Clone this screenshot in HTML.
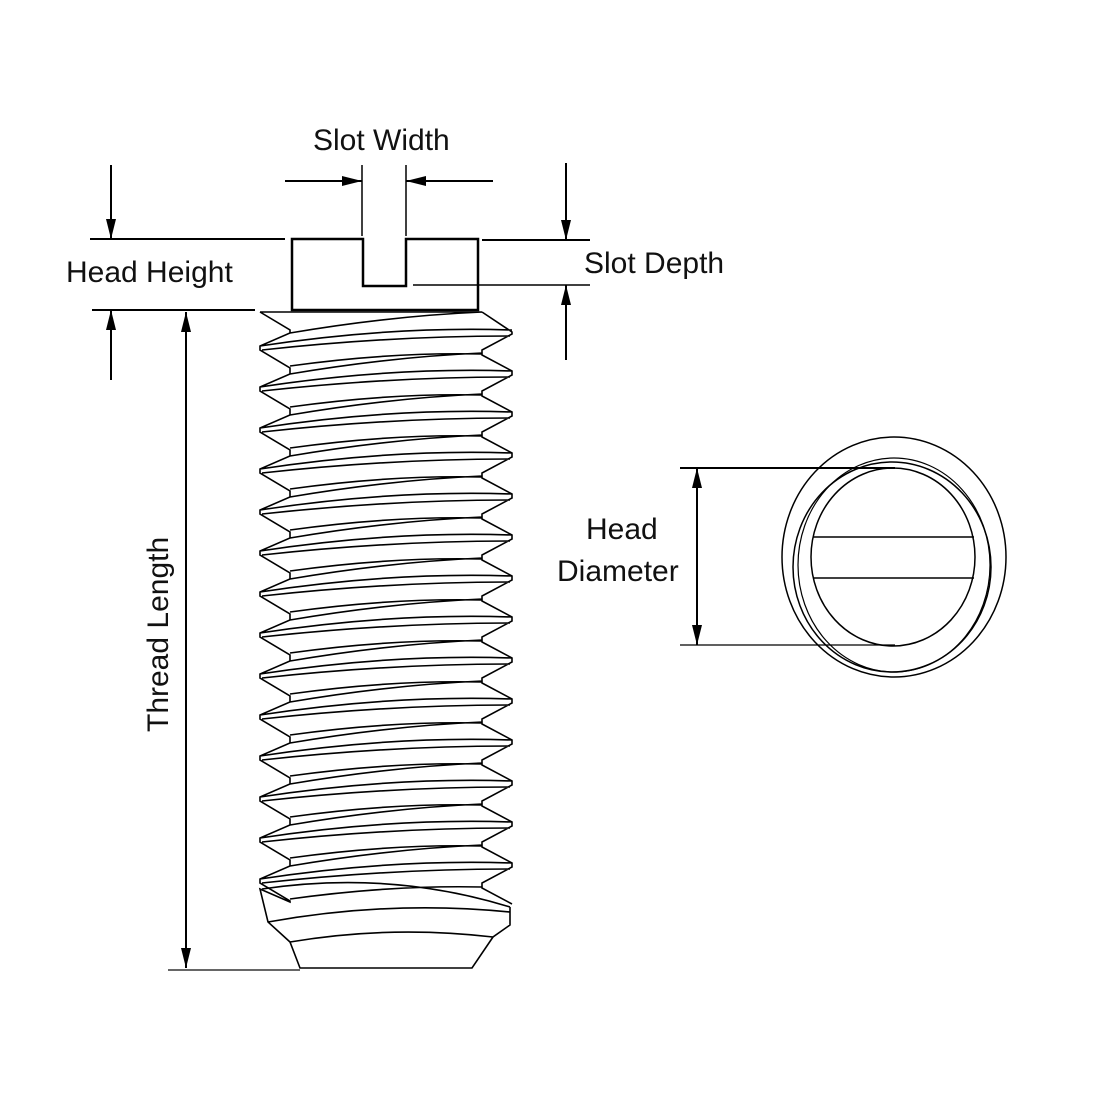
<!DOCTYPE html>
<html><head><meta charset="utf-8"><style>
html,body{margin:0;padding:0;background:#fff;}
svg{display:block;}
text{font-family:"Liberation Sans",sans-serif;font-size:30px;fill:#111;}
</style></head><body>
<svg id="s" width="1100" height="1100" viewBox="0 0 1100 1100" xmlns="http://www.w3.org/2000/svg">
<defs>
<marker id="a" viewBox="0 0 20 10" refX="20" refY="5" markerWidth="20" markerHeight="10" markerUnits="userSpaceOnUse" orient="auto"><path d="M0,0 L20,5 L0,10 z" fill="#000"/></marker>
</defs>
<g stroke="#000" fill="none" stroke-width="2">
<path d="M292,239 H363 V286 H406 V239 H478 V310 H292 Z" stroke-width="2.5"/>
<line x1="90" y1="239" x2="285" y2="239"/>
<line x1="92" y1="310" x2="255" y2="310"/>
<line x1="111" y1="165" x2="111" y2="239" marker-end="url(#a)"/>
<line x1="111" y1="380" x2="111" y2="310" marker-end="url(#a)"/>
<line x1="362" y1="165" x2="362" y2="236" stroke-width="1.5"/>
<line x1="406" y1="165" x2="406" y2="236" stroke-width="1.5"/>
<line x1="285" y1="181" x2="362" y2="181" marker-end="url(#a)"/>
<line x1="493" y1="181" x2="406" y2="181" marker-end="url(#a)"/>
<line x1="482" y1="240" x2="590" y2="240"/>
<line x1="413" y1="285" x2="590" y2="285" stroke-width="1.5"/>
<line x1="566" y1="163" x2="566" y2="240" marker-end="url(#a)"/>
<line x1="566" y1="360" x2="566" y2="285" marker-end="url(#a)"/>
<line x1="186" y1="968" x2="186" y2="312" marker-end="url(#a)"/>
<line x1="186" y1="312" x2="186" y2="968" marker-end="url(#a)"/>
<line x1="168" y1="970" x2="300" y2="970" stroke="#666"/>
<line x1="680" y1="468" x2="895" y2="468"/>
<line x1="680" y1="645" x2="895" y2="645" stroke-width="1.2"/>
<line x1="697" y1="468" x2="697" y2="645" marker-end="url(#a)"/>
<line x1="697" y1="645" x2="697" y2="468" marker-end="url(#a)"/>
<ellipse cx="894" cy="557" rx="112" ry="120" stroke-width="1.5"/>
<ellipse cx="892" cy="567" rx="99" ry="105" stroke-width="1.5"/>
<ellipse cx="894" cy="565" rx="96" ry="107" stroke-width="1.2"/>
<ellipse cx="893" cy="557" rx="82" ry="89" stroke-width="1.5"/>
<line x1="813" y1="537" x2="974" y2="537" stroke-width="1.5"/>
<line x1="813" y1="578" x2="974" y2="578" stroke-width="1.5"/>
<g id="th" stroke-width="1.6"></g>
</g>
<text x="313" y="150">Slot Width</text>
<text x="66" y="282">Head Height</text>
<text x="584" y="273">Slot Depth</text>
<text x="586" y="539">Head</text>
<text x="557" y="581">Diameter</text>
<text transform="translate(168,732) rotate(-90)">Thread Length</text>
</svg>
<script>
var g=document.getElementById('th'),d='';
d+='M260,312 L482,312 ';
d+='M260,312 L290,330 ';
for(var k=0;k<14;k++){var y=348+41*k;d+='L290,'+(y-15)+' L260,'+(y-2)+' L260,'+(y+2)+' L290,'+(y+20)+' ';}
d+='L290,902 L260,889 L268,922 L290,942 L300,968 L472,968 L493,937 L510,925 L510,907 ';
d+='M482,312 L512,332 ';
for(var k=0;k<14;k++){var y=332+41*k;d+='L512,'+(y+2)+' L482,'+(y+18)+' L482,'+(y+23)+' L512,'+(y+39)+' ';}
for(var k=0;k<14;k++){var yl=348+41*k,yr=332+41*k;
d+='M260,'+(yl-2)+' Q390,'+(yl-22)+' 512,'+(yr-2)+' ';
d+='M262,'+(yl+2)+' Q390,'+(yl-12)+' 510,'+(yr+4)+' ';
d+='M290,'+(yl-15)+' Q390,'+(yl-32)+' 482,'+(yr-20)+' ';
d+='M290,'+(yl+18)+' Q390,'+(yl+4)+' 482,'+(yr+22)+' ';
}
d+='M262,889 Q390,870 510,907 ';
d+='M268,922 Q390,900 510,912 ';
d+='M290,942 Q390,925 493,937 ';
var p=document.createElementNS('http://www.w3.org/2000/svg','path');p.setAttribute('d',d);g.appendChild(p);
</script>
</body></html>
